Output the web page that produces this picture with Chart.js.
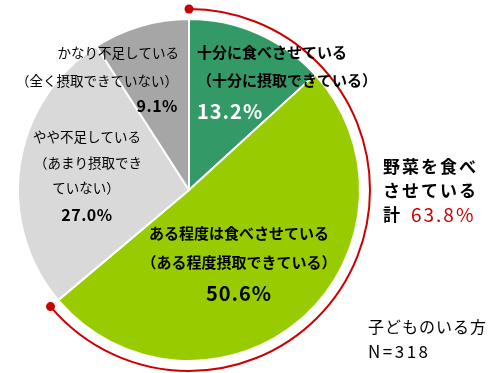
<!DOCTYPE html>
<html>
<head>
<meta charset="utf-8">
<script src="https://cdn.jsdelivr.net/npm/chart.js@4"></script>
<style>
  html, body { margin: 0; padding: 0; background: #fff; }
  #wrap { width: 500px; height: 373px; position: relative; }
</style>
</head>
<body>
<div id="wrap"><canvas id="pie_chart"></canvas></div>
<script>
/* -----------------------
data
-------------------------- */
const categories = [
  ['十分に食べさせている', '（十分に摂取できている）'],
  ['ある程度は食べさせている', '（ある程度摂取できている）'],
  ['やや不足している', '（あまり摂取でき', 'ていない）'],
  ['かなり不足している', '（全く摂取できていない）']
];
const values = [13.2, 50.6, 27.0, 9.1];
const colors = ['#339966', '#99cc00', '#d9d9d9', '#a6a6a6'];
const totalLabel = ['野菜を食べ', 'させている', '計'];
const totalValue = 63.8;   // first two slices together
const sampleNote = ['子どものいる方', 'N=318'];

const FONT = '"Noto Sans CJK JP", "Noto Sans", sans-serif';
const RED = '#cc0000';

function txt(ctx, s, x, y, opt) {
  ctx.save();
  ctx.font = (opt.bold ? 'bold ' : '') + opt.size + 'px ' + FONT;
  ctx.fillStyle = opt.color || '#000';
  ctx.textAlign = opt.align || 'left';
  ctx.textBaseline = 'middle';
  if (opt.spacing) ctx.letterSpacing = opt.spacing + 'px';
  ctx.fillText(s, x, y);
  ctx.restore();
}

/* -----------------------
red arc over the "eating" share
-------------------------- */
const arcPlugin = {
  id: 'totalArc',
  afterDatasetsDraw(chart) {
    const meta = chart.getDatasetMeta(0);
    const a0 = meta.data[0], a1 = meta.data[1];
    const p = a0.getProps(['x', 'y', 'startAngle', 'outerRadius']);
    const end = a1.getProps(['endAngle']).endAngle;
    const r = p.outerRadius + 10;
    const ctx = chart.ctx;
    ctx.save();
    ctx.strokeStyle = RED;
    ctx.lineWidth = 2;
    ctx.beginPath();
    ctx.arc(p.x, p.y, r, p.startAngle, end);
    ctx.stroke();
    ctx.fillStyle = RED;
    [p.startAngle, end].forEach(function (ang) {
      ctx.beginPath();
      ctx.arc(p.x + r * Math.cos(ang), p.y + r * Math.sin(ang), 4.5, 0, Math.PI * 2);
      ctx.fill();
    });
    ctx.restore();
  }
};

/* -----------------------
slice labels + side notes
-------------------------- */
const labelPlugin = {
  id: 'sliceLabels',
  afterDraw(chart) {
    const ctx = chart.ctx;
    const pct = values.map(v => v.toFixed(1) + '%');

    // 十分に
    txt(ctx, categories[0][0], 197, 52, { bold: true, size: 15 });
    txt(ctx, categories[0][1], 197, 80, { bold: true, size: 15 });
    txt(ctx, pct[0], 197, 111, { bold: true, size: 20, color: '#fff', spacing: 1 });

    // ある程度
    txt(ctx, categories[1][0], 239, 233, { bold: true, size: 15, align: 'center' });
    txt(ctx, categories[1][1], 239, 262, { bold: true, size: 15, align: 'center' });
    txt(ctx, pct[1], 239, 293, { bold: true, size: 20, align: 'center', spacing: 1 });

    // やや不足
    txt(ctx, categories[2][0], 87, 137, { size: 13.5, align: 'center' });
    txt(ctx, categories[2][1], 88, 163, { size: 13.5, align: 'center' });
    txt(ctx, categories[2][2], 86, 188, { size: 13.5, align: 'center' });
    txt(ctx, pct[2], 87, 215, { bold: true, size: 16, align: 'center', spacing: 0.5 });

    // かなり不足
    txt(ctx, categories[3][0], 179, 53, { size: 13.5, align: 'right' });
    txt(ctx, categories[3][1], 178, 81, { size: 13.5, align: 'right' });
    txt(ctx, pct[3], 178, 106, { bold: true, size: 16, align: 'right', spacing: 0.5 });

    // total
    txt(ctx, totalLabel[0], 383, 167, { bold: true, size: 17, spacing: 2 });
    txt(ctx, totalLabel[1], 383, 191, { bold: true, size: 17, spacing: 2 });
    txt(ctx, totalLabel[2], 383, 215, { bold: true, size: 17 });
    txt(ctx, totalValue.toFixed(1) + '%', 411, 215, { size: 19, color: RED, spacing: 2 });

    // note
    txt(ctx, sampleNote[0], 368, 327, { size: 16, spacing: 1 });
    txt(ctx, sampleNote[1], 368, 352, { size: 17, spacing: 2.5 });
  }
};

const pieChart = document.getElementById('pie_chart');
new Chart(pieChart, {
  type: 'pie',
  data: {
    labels: categories.map(c => c[0]),
    datasets: [{
      data: values,
      backgroundColor: colors,
      borderColor: '#fff',
      borderWidth: 2
    }]
  },
  options: {
    responsive: true,
    maintainAspectRatio: false,
    animation: false,
    layout: { padding: { top: 18, bottom: 11, left: 17, right: 139 } },
    plugins: {
      legend: { display: false },
      tooltip: { enabled: false }
    }
  },
  plugins: [arcPlugin, labelPlugin]
});
</script>
</body>
</html>
